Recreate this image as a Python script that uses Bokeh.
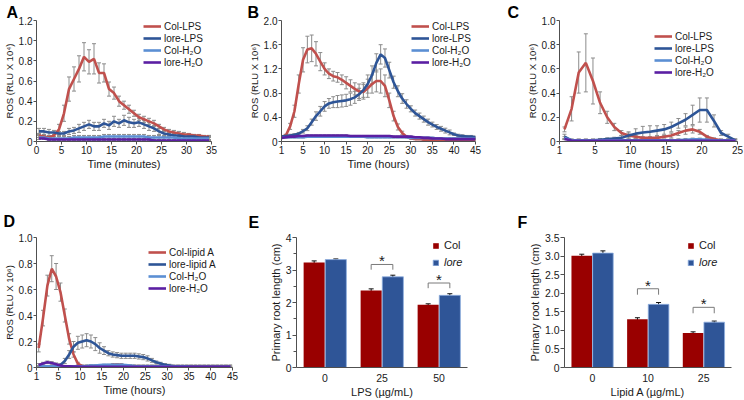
import pandas as pd
from bokeh.plotting import figure
from bokeh.layouts import row, column
from bokeh.models import (ColumnDataSource, Range1d, FactorRange, Whisker, TeeHead,
                          Legend, LegendItem, FixedTicker)
from bokeh.transform import dodge
from bokeh.core.properties import value
from bokeh.embed import file_html
from bokeh.resources import INLINE

# ---------------- data ----------------
LBL_LPS = ["Col-LPS", "lore-LPS", "Col-H\u2082O", "lore-H\u2082O"]
LBL_LIPID = ["Col-lipid A", "lore-lipid A", "Col-H\u2082O", "lore-H\u2082O"]

# Panel A (minutes)
A_time = [0.5, 1.5, 2.5, 3.5, 4.5, 5.5, 6.5, 7.5, 8.5, 9.5,
          10.5, 11.5, 12.5, 13.5, 14.5, 15.5, 16.5, 17.5, 18.5, 19.5,
          20.5, 21.5, 22.5, 23.5, 24.5, 25.5, 26.5, 27.5, 28.5, 29.5,
          30.5, 31.5, 32.5, 33.5, 34.5]
A_col_lps = [0.06, 0.05, 0.04, 0.06, 0.12, 0.28, 0.52, 0.62, 0.72, 0.84,
             0.79, 0.82, 0.68, 0.68, 0.52, 0.48, 0.40, 0.36, 0.32, 0.28,
             0.24, 0.22, 0.20, 0.18, 0.15, 0.12, 0.10, 0.09, 0.08, 0.07,
             0.07, 0.06, 0.06, 0.05, 0.05]
A_col_lps_err = [0.02, 0.02, 0.02, 0.03, 0.05, 0.08, 0.12, 0.12, 0.13, 0.14,
                 0.12, 0.15, 0.10, 0.09, 0.07, 0.06, 0.05, 0.04, 0.04, 0.03,
                 0.03, 0.03, 0.03, 0.03, 0.02, 0.02, 0.02, 0.02, 0.02, 0.02,
                 0.01, 0.01, 0.01, 0.01, 0.01]
A_lore_lps = [0.10, 0.10, 0.09, 0.09, 0.08, 0.08, 0.10, 0.11, 0.13, 0.15,
              0.17, 0.15, 0.15, 0.18, 0.16, 0.20, 0.18, 0.21, 0.19, 0.18,
              0.19, 0.17, 0.15, 0.13, 0.10, 0.08, 0.07, 0.06, 0.06, 0.05,
              0.05, 0.05, 0.04, 0.04, 0.04]
A_lore_lps_err = [0.03, 0.03, 0.03, 0.02, 0.02, 0.02, 0.03, 0.03, 0.04, 0.04,
                  0.04, 0.04, 0.04, 0.04, 0.04, 0.05, 0.04, 0.05, 0.05, 0.04,
                  0.04, 0.04, 0.04, 0.03, 0.03, 0.03, 0.02, 0.02, 0.02, 0.02,
                  0.02, 0.02, 0.02, 0.02, 0.02]
A_col_h2o = [0.04, 0.04, 0.03, 0.03, 0.03, 0.03, 0.03, 0.04, 0.04, 0.04,
             0.04, 0.04, 0.04, 0.05, 0.05, 0.05, 0.05, 0.05, 0.05, 0.05,
             0.05, 0.05, 0.04, 0.04, 0.04, 0.04, 0.04, 0.04, 0.03, 0.03,
             0.03, 0.03, 0.03, 0.03, 0.03]
A_col_h2o_err = [0.02, 0.02, 0.02, 0.02, 0.02, 0.02, 0.02, 0.02, 0.02, 0.02,
                 0.02, 0.02, 0.02, 0.02, 0.02, 0.02, 0.02, 0.02, 0.02, 0.02,
                 0.02, 0.02, 0.02, 0.02, 0.02, 0.02, 0.02, 0.02, 0.02, 0.02,
                 0.02, 0.02, 0.02, 0.02, 0.02]
A_lore_h2o = [0.03, 0.03, 0.02, 0.02, 0.02, 0.02, 0.02, 0.02, 0.02, 0.02,
              0.02, 0.02, 0.02, 0.02, 0.02, 0.02, 0.02, 0.02, 0.02, 0.02,
              0.02, 0.02, 0.02, 0.01, 0.01, 0.01, 0.01, 0.01, 0.01, 0.01,
              0.01, 0.01, 0.01, 0.01, 0.01]
A_lore_h2o_err = [0.01, 0.01, 0.01, 0.01, 0.01, 0.01, 0.01, 0.01, 0.01, 0.01,
                  0.01, 0.01, 0.01, 0.01, 0.01, 0.01, 0.01, 0.01, 0.01, 0.01,
                  0.01, 0.01, 0.01, 0.01, 0.01, 0.01, 0.01, 0.01, 0.01, 0.01,
                  0.01, 0.01, 0.01, 0.01, 0.01]

# Panel B (hours)
B_time = [0, 1, 2, 3, 4, 5, 6, 7, 8, 9,
          10, 11, 12, 13, 14, 15, 16, 17, 18, 19,
          20, 21, 22, 23, 24, 25, 26, 27, 28, 29,
          30, 31, 32, 33, 34, 35, 36, 37, 38, 39,
          40, 41, 42, 43, 44, 45]
B_col_lps = [0.08, 0.10, 0.25, 0.50, 0.95, 1.35, 1.52, 1.54, 1.45, 1.32,
             1.20, 1.12, 1.08, 1.06, 1.02, 0.97, 0.92, 0.87, 0.83, 0.82,
             0.88, 0.95, 1.00, 1.00, 0.92, 0.68, 0.42, 0.24, 0.14, 0.08,
             0.05, 0.04, 0.04, 0.03, 0.03, 0.03, 0.03, 0.03, 0.03, 0.03,
             0.03, 0.03, 0.03, 0.03, 0.03, 0.03]
B_col_lps_err = [0.01, 0.02, 0.05, 0.10, 0.15, 0.20, 0.22, 0.22, 0.20, 0.15,
                 0.10, 0.08, 0.08, 0.08, 0.08, 0.10, 0.10, 0.10, 0.12, 0.12,
                 0.15, 0.15, 0.18, 0.20, 0.18, 0.12, 0.08, 0.05, 0.03, 0.02,
                 0.01, 0.01, 0.01, 0.01, 0.01, 0.01, 0.01, 0.01, 0.01, 0.01,
                 0.01, 0.01, 0.01, 0.01, 0.01, 0.01]
B_lore_lps = [0.08, 0.09, 0.10, 0.11, 0.13, 0.17, 0.22, 0.32, 0.42, 0.50,
              0.58, 0.63, 0.65, 0.66, 0.67, 0.68, 0.70, 0.73, 0.78, 0.85,
              0.95, 1.10, 1.30, 1.44, 1.38, 1.18, 0.98, 0.83, 0.71, 0.62,
              0.54, 0.47, 0.42, 0.37, 0.32, 0.28, 0.24, 0.21, 0.18, 0.15,
              0.12, 0.10, 0.09, 0.08, 0.08, 0.07]
B_lore_lps_err = [0.02, 0.02, 0.02, 0.02, 0.02, 0.03, 0.04, 0.05, 0.07, 0.08,
                  0.08, 0.08, 0.09, 0.10, 0.10, 0.10, 0.10, 0.10, 0.10, 0.12,
                  0.15, 0.15, 0.15, 0.16, 0.15, 0.13, 0.10, 0.09, 0.08, 0.07,
                  0.05, 0.05, 0.05, 0.05, 0.05, 0.04, 0.04, 0.04, 0.04, 0.04,
                  0.02, 0.02, 0.02, 0.02, 0.02, 0.02]
B_col_h2o = [0.06, 0.07, 0.07, 0.07, 0.07, 0.07, 0.08, 0.08, 0.08, 0.08,
             0.08, 0.08, 0.08, 0.08, 0.08, 0.08, 0.08, 0.08, 0.08, 0.08,
             0.07, 0.07, 0.07, 0.07, 0.07, 0.07, 0.07, 0.07, 0.07, 0.07,
             0.06, 0.06, 0.06, 0.06, 0.06, 0.06, 0.05, 0.05, 0.05, 0.05,
             0.05, 0.05, 0.05, 0.05, 0.05, 0.05]
B_col_h2o_err = [0.01, 0.01, 0.01, 0.01, 0.01, 0.01, 0.01, 0.01, 0.01, 0.01,
                 0.01, 0.01, 0.01, 0.01, 0.01, 0.01, 0.01, 0.01, 0.01, 0.01,
                 0.01, 0.01, 0.01, 0.01, 0.01, 0.01, 0.01, 0.01, 0.01, 0.01,
                 0.01, 0.01, 0.01, 0.01, 0.01, 0.01, 0.01, 0.01, 0.01, 0.01,
                 0.01, 0.01, 0.01, 0.01, 0.01, 0.01]
B_lore_h2o = [0.06, 0.07, 0.08, 0.08, 0.09, 0.09, 0.10, 0.10, 0.10, 0.10,
              0.10, 0.10, 0.10, 0.10, 0.10, 0.10, 0.09, 0.09, 0.09, 0.09,
              0.09, 0.09, 0.09, 0.09, 0.09, 0.09, 0.08, 0.08, 0.08, 0.08,
              0.08, 0.07, 0.07, 0.06, 0.06, 0.05, 0.05, 0.05, 0.04, 0.04,
              0.04, 0.04, 0.04, 0.04, 0.04, 0.04]
B_lore_h2o_err = [0.01, 0.01, 0.01, 0.01, 0.01, 0.01, 0.01, 0.01, 0.01, 0.01,
                  0.01, 0.01, 0.01, 0.01, 0.01, 0.01, 0.01, 0.01, 0.01, 0.01,
                  0.01, 0.01, 0.01, 0.01, 0.01, 0.01, 0.01, 0.01, 0.01, 0.01,
                  0.01, 0.01, 0.01, 0.01, 0.01, 0.01, 0.01, 0.01, 0.01, 0.01,
                  0.01, 0.01, 0.01, 0.01, 0.01, 0.01]

# Panel C (hours)
C_time = [0.7, 1.7, 2.7, 3.7, 4.7, 5.7, 6.7, 7.7, 8.7, 9.7,
          10.7, 11.7, 12.7, 13.7, 14.7, 15.7, 16.7, 17.7, 18.7, 19.7,
          20.7, 21.7, 22.7, 23.7, 24.7]
C_col_lps = [0.10, 0.27, 0.57, 0.65, 0.50, 0.32, 0.20, 0.12, 0.07, 0.05,
             0.04, 0.03, 0.03, 0.03, 0.04, 0.05, 0.07, 0.09, 0.10, 0.08,
             0.04, 0.02, 0.01, 0.01, 0.01]
C_col_lps_err = [0.02, 0.10, 0.17, 0.24, 0.19, 0.09, 0.05, 0.03, 0.02, 0.02,
                 0.01, 0.01, 0.01, 0.01, 0.01, 0.02, 0.02, 0.03, 0.03, 0.02,
                 0.01, 0.01, 0.01, 0.01, 0.01]
C_lore_lps = [0.04, 0.01, 0.01, 0.01, 0.01, 0.015, 0.02, 0.025, 0.03, 0.05,
              0.065, 0.075, 0.08, 0.09, 0.10, 0.12, 0.15, 0.18, 0.22, 0.26,
              0.26, 0.17, 0.07, 0.04, 0.01]
C_lore_lps_err = [0.02, 0.01, 0.01, 0.01, 0.01, 0.01, 0.01, 0.01, 0.02, 0.03,
                  0.04, 0.05, 0.05, 0.04, 0.04, 0.04, 0.04, 0.05, 0.08, 0.10,
                  0.10, 0.05, 0.02, 0.02, 0.01]
C_col_h2o = [0.03, 0.01, 0.01, 0.01, 0.01, 0.01, 0.01, 0.01, 0.01, 0.01,
             0.01, 0.01, 0.01, 0.01, 0.01, 0.01, 0.012, 0.015, 0.018, 0.018,
             0.015, 0.01, 0.01, 0.01, 0.01]
C_col_h2o_err = [0.01, 0.01, 0.01, 0.01, 0.01, 0.01, 0.01, 0.01, 0.01, 0.01,
                 0.01, 0.01, 0.01, 0.01, 0.01, 0.01, 0.01, 0.01, 0.01, 0.01,
                 0.01, 0.01, 0.01, 0.01, 0.01]
C_lore_h2o = [0.02, 0.008, 0.006, 0.005, 0.005, 0.005, 0.005, 0.005, 0.005, 0.005,
              0.005, 0.005, 0.005, 0.005, 0.005, 0.005, 0.005, 0.005, 0.005, 0.005,
              0.005, 0.005, 0.005, 0.005, 0.005]
C_lore_h2o_err = [0.005, 0.005, 0.005, 0.005, 0.005, 0.005, 0.005, 0.005, 0.005, 0.005,
                  0.005, 0.005, 0.005, 0.005, 0.005, 0.005, 0.005, 0.005, 0.005, 0.005,
                  0.005, 0.005, 0.005, 0.005, 0.005]

# Panel D (hours)
D_time = [0.5, 1.5, 2.5, 3.5, 4.5, 5.5, 6.5, 7.5, 8.5, 9.5,
          10.5, 11.5, 12.5, 13.5, 14.5, 15.5, 16.5, 17.5, 18.5, 19.5,
          20.5, 21.5, 22.5, 23.5, 24.5, 25.5, 26.5, 27.5, 28.5, 29.5,
          30.5, 31.5, 32.5, 33.5, 34.5, 35.5, 36.5, 37.5, 38.5, 39.5,
          40.5, 41.5, 42.5, 43.5, 44.5]
D_col_lip = [0.15, 0.38, 0.63, 0.76, 0.70, 0.58, 0.40, 0.22, 0.10, 0.03,
             0.01, 0.01, 0.01, 0.01, 0.01, 0.01, 0.01, 0.02, 0.02, 0.02,
             0.01, 0.01, 0.01, 0.01, 0.01, 0.01, 0.01, 0.01, 0.01, 0.01,
             0.01, 0.01, 0.01, 0.01, 0.01, 0.01, 0.01, 0.01, 0.01, 0.01,
             0.01, 0.01, 0.01, 0.01, 0.01]
D_col_lip_err = [0.03, 0.06, 0.08, 0.10, 0.10, 0.07, 0.05, 0.04, 0.02, 0.01,
                 0.01, 0.01, 0.01, 0.01, 0.01, 0.01, 0.01, 0.01, 0.01, 0.01,
                 0.01, 0.01, 0.01, 0.01, 0.01, 0.01, 0.01, 0.01, 0.01, 0.01,
                 0.01, 0.01, 0.01, 0.01, 0.01, 0.01, 0.01, 0.01, 0.01, 0.01,
                 0.01, 0.01, 0.01, 0.01, 0.01]
D_lore_lip = [0.00, 0.00, 0.00, 0.01, 0.01, 0.02, 0.05, 0.10, 0.16, 0.19,
              0.20, 0.21, 0.20, 0.18, 0.15, 0.13, 0.11, 0.10, 0.095, 0.09,
              0.09, 0.09, 0.09, 0.085, 0.08, 0.07, 0.055, 0.04, 0.03, 0.02,
              0.015, 0.01, 0.01, 0.01, 0.01, 0.005, 0.005, 0.005, 0.005, 0.005,
              0.005, 0.005, 0.005, 0.005, 0.005]
D_lore_lip_err = [0.005, 0.005, 0.005, 0.005, 0.005, 0.01, 0.02, 0.03, 0.04, 0.05,
                  0.05, 0.05, 0.05, 0.05, 0.04, 0.03, 0.02, 0.02, 0.02, 0.02,
                  0.02, 0.02, 0.02, 0.02, 0.02, 0.02, 0.015, 0.01, 0.01, 0.01,
                  0.01, 0.005, 0.005, 0.005, 0.005, 0.005, 0.005, 0.005, 0.005, 0.005,
                  0.005, 0.005, 0.005, 0.005, 0.005]
D_col_h2o = [0.01, 0.01, 0.01, 0.01, 0.01, 0.01, 0.01, 0.01, 0.01, 0.01,
             0.01, 0.012, 0.015, 0.015, 0.018, 0.02, 0.02, 0.02, 0.02, 0.02,
             0.018, 0.015, 0.012, 0.01, 0.01, 0.01, 0.01, 0.01, 0.01, 0.01,
             0.008, 0.008, 0.008, 0.008, 0.008, 0.006, 0.006, 0.006, 0.006, 0.006,
             0.005, 0.005, 0.005, 0.005, 0.005]
D_col_h2o_err = [0.005, 0.005, 0.005, 0.005, 0.005, 0.005, 0.005, 0.005, 0.005, 0.005,
                 0.005, 0.005, 0.005, 0.005, 0.005, 0.005, 0.005, 0.005, 0.005, 0.005,
                 0.005, 0.005, 0.005, 0.005, 0.005, 0.005, 0.005, 0.005, 0.005, 0.005,
                 0.005, 0.005, 0.005, 0.005, 0.005, 0.005, 0.005, 0.005, 0.005, 0.005,
                 0.005, 0.005, 0.005, 0.005, 0.005]
D_lore_h2o = [0.02, 0.03, 0.04, 0.035, 0.025, 0.015, 0.01, 0.01, 0.008, 0.008,
              0.006, 0.006, 0.006, 0.006, 0.006, 0.006, 0.006, 0.006, 0.006, 0.006,
              0.006, 0.006, 0.006, 0.006, 0.006, 0.006, 0.006, 0.006, 0.006, 0.006,
              0.006, 0.006, 0.006, 0.006, 0.006, 0.006, 0.006, 0.006, 0.006, 0.006,
              0.006, 0.006, 0.006, 0.006, 0.006]
D_lore_h2o_err = [0.01, 0.01, 0.01, 0.01, 0.01, 0.005, 0.005, 0.005, 0.005, 0.005,
                  0.005, 0.005, 0.005, 0.005, 0.005, 0.005, 0.005, 0.005, 0.005, 0.005,
                  0.005, 0.005, 0.005, 0.005, 0.005, 0.005, 0.005, 0.005, 0.005, 0.005,
                  0.005, 0.005, 0.005, 0.005, 0.005, 0.005, 0.005, 0.005, 0.005, 0.005,
                  0.005, 0.005, 0.005, 0.005, 0.005]

# Panel E (root length, LPS)
E_cat = ["0", "25", "50"]
E_col = [3.23, 2.37, 1.93]
E_col_err = [0.05, 0.05, 0.03]
E_lore = [3.32, 2.79, 2.22]
E_lore_err = [0.02, 0.05, 0.05]
E_sig = [False, True, True]

# Panel F (root length, lipid A)
F_cat = ["0", "10", "25"]
F_col = [3.01, 1.30, 0.93]
F_col_err = [0.04, 0.04, 0.03]
F_lore = [3.08, 1.70, 1.22]
F_lore_err = [0.06, 0.05, 0.03]
F_sig = [False, True, True]

# tick labels
A_xticks = [0, 5, 10, 15, 20, 25, 30, 35]
A_xlabels = ["0", "5", "10", "15", "20", "25", "30", "35"]
H45_xticks = [0, 5, 10, 15, 20, 25, 30, 35, 40, 45]
H45_xlabels = ["1", "5", "10", "15", "20", "25", "30", "35", "40", "45"]
C_xticks = [0, 5, 10, 15, 20, 25]
C_xlabels = ["1", "5", "10", "15", "20", "25"]
A_yticks = [0, 0.2, 0.4, 0.6, 0.8, 1.0, 1.2]
A_ylabels = ["0", "0.2", "0.4", "0.6", "0.8", "1.0", "1.2"]
B_yticks = [0, 0.4, 0.8, 1.2, 1.6, 2.0]
B_ylabels = ["0", "0.4", "0.8", "1.2", "1.6", "2.0"]
CD_yticks = [0, 0.2, 0.4, 0.6, 0.8, 1.0]
CD_ylabels = ["0", "0.2", "0.4", "0.6", "0.8", "1.0"]
E_yticks = [0, 1, 2, 3, 4]
E_ylabels = ["0", "1", "2", "3", "4"]
E_yminor = [0.5, 1.5, 2.5, 3.5]
F_yticks = [0, 0.5, 1.0, 1.5, 2.0, 2.5, 3.0, 3.5]
F_ylabels = ["0", "0.5", "1.0", "1.5", "2.0", "2.5", "3.0", "3.5"]

# ---------------- style ----------------
FONT = "Liberation Sans"
TXT = "#1a1a1a"
AXC = "#505050"
ERRC = "#8c8c8c"
LINE_COLORS = ["#c0504d", "#2e5597", "#5b8fd3", "#5b1fa3"]
BAR_COL = "#990000"
BAR_LORE = "#2f5597"


def base_style(p, xlabel, ylabel, tick_size, xlab_size, ylab_size):
    p.xgrid.visible = False
    p.ygrid.visible = False
    p.outline_line_color = None
    p.xaxis.axis_label = xlabel
    p.yaxis.axis_label = ylabel
    for ax in (p.xaxis[0], p.yaxis[0]):
        ax.axis_line_color = AXC
        ax.major_tick_line_color = AXC
        ax.minor_tick_line_color = None
        ax.major_tick_in = 0
        ax.major_tick_out = 3
        ax.major_label_text_font = FONT
        ax.major_label_text_color = TXT
        ax.major_label_text_font_size = tick_size
        ax.axis_label_text_font = FONT
        ax.axis_label_text_color = TXT
        ax.axis_label_text_font_style = "normal"
        ax.major_label_standoff = 1
        ax.axis_label_standoff = 1
    p.xaxis.axis_label_text_font_size = xlab_size
    p.yaxis.axis_label_text_font_size = ylab_size


def set_letter(p, letter, off, standoff):
    p.title.text = letter
    p.title.align = "left"
    p.title.offset = off
    p.title.standoff = standoff
    p.title.text_font = FONT
    p.title.text_font_size = "16px"
    p.title.text_font_style = "bold"
    p.title.text_color = "#000000"


def line_panel(letter, t, series, errs, labels, xmax, ymax, xt, xl, yt, yl,
               xlabel, ylabel, W, H, mbl, mbr, mbt, mbb, leg_dx, leg_dy, let_off, let_so):
    p = figure(width=W, height=H, x_range=Range1d(0, xmax), y_range=Range1d(0, ymax),
               output_backend="svg", toolbar_location=None,
               min_border_left=mbl, min_border_right=mbr,
               min_border_top=mbt, min_border_bottom=mbb)
    base_style(p, xlabel, ylabel, "10px", "11px", "9.5px")
    set_letter(p, letter, let_off, let_so)
    p.xaxis.ticker = FixedTicker(ticks=xt)
    p.xaxis.major_label_overrides = dict(zip(xt, xl))
    p.yaxis.ticker = FixedTicker(ticks=yt)
    p.yaxis.major_label_overrides = dict(zip(yt, yl))
    items = []
    for y, e, lab, c in zip(series, errs, labels, LINE_COLORS):
        df = pd.DataFrame({"t": t, "y": y, "e": e})
        df["lo"] = (df["y"] - df["e"]).clip(lower=0)
        df["hi"] = df["y"] + df["e"]
        src = ColumnDataSource(df)
        w = Whisker(base="t", upper="hi", lower="lo", source=src, level="underlay",
                    line_color=ERRC, line_width=1,
                    upper_head=TeeHead(size=4, line_color=ERRC, line_width=1),
                    lower_head=TeeHead(size=4, line_color=ERRC, line_width=1))
        p.add_layout(w)
        r = p.line("t", "y", source=src, line_color=c, line_width=2.6)
        items.append(LegendItem(label=lab, renderers=[r]))
    fw = W - mbl - mbr
    fh = H - mbt - mbb
    leg = Legend(items=items, location=(fw - leg_dx, fh - leg_dy - 48),
                 label_text_font=FONT, label_text_font_size="10px", label_text_color=TXT,
                 label_height=12, glyph_height=12, glyph_width=18, label_standoff=3,
                 spacing=0, padding=0, margin=0, border_line_color=None,
                 background_fill_alpha=0)
    p.add_layout(leg)
    return p


def bar_panel(letter, cats, col, col_e, lore, lore_e, sig, ymax, yt, yl, yminor,
              xlabel, ylabel, W, H, mbl, mbr, mbt, mbb, gap, leg_len, star_off,
              lg_dx, col_dy, lore_dy, let_off, let_so):
    p = figure(width=W, height=H, x_range=FactorRange(factors=cats), y_range=Range1d(0, ymax),
               output_backend="svg", toolbar_location=None,
               min_border_left=mbl, min_border_right=mbr,
               min_border_top=mbt, min_border_bottom=mbb)
    base_style(p, xlabel, ylabel, "10.5px", "11px", "11px")
    set_letter(p, letter, let_off, let_so)
    p.x_range.range_padding = 0
    p.xaxis.major_tick_line_color = None
    p.xaxis.major_label_standoff = 3
    p.yaxis.ticker = FixedTicker(ticks=yt, minor_ticks=yminor)
    p.yaxis.major_label_overrides = dict(zip(yt, yl))
    p.yaxis.major_tick_out = 4
    p.yaxis.minor_tick_line_color = AXC
    p.yaxis.minor_tick_in = 0
    p.yaxis.minor_tick_out = 3

    df = pd.DataFrame(dict(cat=cats, col=col, col_e=col_e, lore=lore, lore_e=lore_e, sig=sig))
    df["col_lo"] = df["col"] - df["col_e"]
    df["col_hi"] = df["col"] + df["col_e"]
    df["lore_lo"] = df["lore"] - df["lore_e"]
    df["lore_hi"] = df["lore"] + df["lore_e"]
    src = ColumnDataSource(df)
    xc = dodge("cat", -0.19, range=p.x_range)
    xlr = dodge("cat", 0.19, range=p.x_range)
    rc = p.vbar(x=xc, top="col", width=0.37, source=src, fill_color=BAR_COL, line_color=None)
    rl = p.vbar(x=xlr, top="lore", width=0.37, source=src, fill_color=BAR_LORE,
                line_color="#8eaee0", line_width=0.8)
    for xx, lo, hi in ((xc, "col_lo", "col_hi"), (xlr, "lore_lo", "lore_hi")):
        p.add_layout(Whisker(base=xx, upper=hi, lower=lo, source=src,
                             line_color="#111111", line_width=1,
                             upper_head=TeeHead(size=5, line_color="#111111", line_width=1),
                             lower_head=TeeHead(size=5, line_color="#111111", line_width=1)))
    sdf = df[df["sig"]].copy()
    sdf["yb"] = sdf[["col_hi", "lore_hi"]].max(axis=1) + gap
    sdf["yl"] = sdf["yb"] - leg_len
    sdf["ys"] = sdf["yb"] + star_off
    ssrc = ColumnDataSource(sdf)
    BRC = "#7a7a7a"
    p.segment(x0=xc, x1=xlr, y0="yb", y1="yb", source=ssrc, line_color=BRC, line_width=1)
    p.segment(x0=xc, x1=xc, y0="yl", y1="yb", source=ssrc, line_color=BRC, line_width=1)
    p.segment(x0=xlr, x1=xlr, y0="yl", y1="yb", source=ssrc, line_color=BRC, line_width=1)
    p.text(x="cat", y="ys", text=value("*"), source=ssrc, text_align="center",
           text_baseline="middle", text_font=value(FONT), text_font_size=value("15px"),
           text_color=TXT)

    fw = W - mbl - mbr
    fh = H - mbt - mbb
    common = dict(label_text_font=FONT, label_text_font_size="11px", label_text_color=TXT,
                  label_height=12, glyph_height=7, glyph_width=7, label_standoff=5,
                  spacing=0, padding=0, margin=0, border_line_color=None,
                  background_fill_alpha=0)
    lg1 = Legend(items=[LegendItem(label="Col", renderers=[rc])],
                 location=(fw - lg_dx, fh - col_dy - 6), **common)
    lg2 = Legend(items=[LegendItem(label="lore", renderers=[rl])],
                 location=(fw - lg_dx, fh - lore_dy - 6), label_text_font_style="italic", **common)
    p.add_layout(lg1)
    p.add_layout(lg2)
    return p


H1 = 176
H2 = 224
TOP1, BOT1 = 20, 35      # shared frame borders, top row
TOP2, BOT2 = 61, 33      # shared frame borders, bottom row

pA = line_panel("A", A_time, [A_col_lps, A_lore_lps, A_col_h2o, A_lore_h2o],
                [A_col_lps_err, A_lore_lps_err, A_col_h2o_err, A_lore_h2o_err], LBL_LPS,
                35, 1.2, A_xticks, A_xlabels, A_yticks, A_ylabels,
                "Time (minutes)", "ROS (RLU X 10\u2074)",
                245, H1, 33, 34, TOP1, BOT1, 71, 0, -30, 0)
pB = line_panel("B", B_time, [B_col_lps, B_lore_lps, B_col_h2o, B_lore_h2o],
                [B_col_lps_err, B_lore_lps_err, B_col_h2o_err, B_lore_h2o_err], LBL_LPS,
                45, 2.0, H45_xticks, H45_xlabels, B_yticks, B_ylabels,
                "Time (hours)", "ROS (RLU X 10\u2076)",
                245, H1, 36, 15, TOP1, BOT1, 64, 0, -34, 0)
pC = line_panel("C", C_time, [C_col_lps, C_lore_lps, C_col_h2o, C_lore_h2o],
                [C_col_lps_err, C_lore_lps_err, C_col_h2o_err, C_lore_h2o_err], LBL_LPS,
                25, 1.0, C_xticks, C_xlabels, CD_yticks, CD_ylabels,
                "Time (hours)", "ROS (RLU X 10\u2076)",
                254, H1, 69, 7, TOP1, BOT1, 83, 10, -52, 0)
pD = line_panel("D", D_time, [D_col_lip, D_lore_lip, D_col_h2o, D_lore_h2o],
                [D_col_lip_err, D_lore_lip_err, D_col_h2o_err, D_lore_h2o_err], LBL_LIPID,
                45, 1.0, H45_xticks, H45_xlabels, CD_yticks, CD_ylabels,
                "Time (hours)", "ROS (RLU X 10\u2076)",
                245, H2, 36, 13, TOP2, BOT2, 84, 9, -33, 16)
pE = bar_panel("E", E_cat, E_col, E_col_err, E_lore, E_lore_err, E_sig,
               4, E_yticks, E_ylabels, E_yminor, "LPS (\u00b5g/mL)", "Primary root length (cm)",
               245, H2, 51, 23, TOP2, BOT2, 0.33, 0.16, 0.12, 35, 8, 25, -48, 14)
pF = bar_panel("F", F_cat, F_col, F_col_err, F_lore, F_lore_err, F_sig,
               3.5, F_yticks, F_ylabels, [], "Lipid A (\u00b5g/mL)", "Primary root length (cm)",
               254, H2, 74, 13, TOP2, BOT2, 0.37, 0.16, 0.1, 44, 8, 25, -47, 14)

layout = column(row(pA, pB, pC), row(pD, pE, pF))
open("out.html", "w").write(file_html(layout, INLINE))
